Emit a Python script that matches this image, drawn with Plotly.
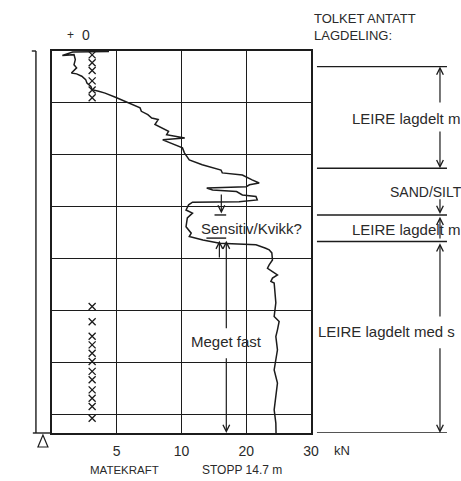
import plotly.graph_objects as go

# Total sounding: push force (kN) against depth (m)
depth_m = [
    0.02, 0.04, 0.17, 0.14, 0.33, 0.53, 0.65, 0.85, 0.88, 0.97, 1.10, 1.23, 1.36, 1.49,
    1.55, 1.62, 1.78, 1.93, 2.07, 2.19, 2.32, 2.45, 2.58, 2.64, 2.83, 2.96, 3.09, 3.22,
    3.32, 3.35, 3.42, 3.62, 3.73, 3.92, 4.19, 4.38, 4.58, 4.69, 4.77, 4.96, 5.08, 5.15,
    5.22, 5.27, 5.35, 5.41, 5.54, 5.60, 5.73, 5.80, 5.82, 5.92, 6.12, 6.24, 6.42, 6.76,
    7.01, 7.14, 7.27, 7.40, 7.46, 7.59, 7.65, 7.77, 8.04, 8.23, 8.36, 8.49, 8.62, 8.74,
    8.87, 8.93, 9.32, 9.69, 10.22, 10.41, 10.73, 10.99, 11.50, 11.88, 12.27, 12.78, 13.30,
    13.81, 14.32, 14.64, 14.70,
]
force_kN = [
    4.4, 1.6, 0.8, 1.7, 1.8, 1.7, 1.9, 1.5, 1.9, 2.3, 2.6, 2.7, 3.0, 3.1,
    3.6, 4.1, 4.9, 5.6, 6.3, 6.8, 6.9, 7.4, 7.7, 8.2, 7.95, 8.5, 9.0, 8.85,
    9.75, 10.5, 8.55, 9.6, 10.15, 10.45, 11.2, 13.2, 16.1, 16.3, 19.4, 20.9, 22.0, 20.5,
    20.0, 13.9, 14.8, 18.5, 19.4, 21.5, 21.7, 18.9, 11.7, 11.1, 10.7, 11.7, 10.9, 10.7,
    11.5, 11.2, 13.3, 15.9, 21.5, 23.0, 23.54, 23.95, 24.05, 23.54, 23.28, 24.05, 24.82, 24.05,
    23.8, 24.31, 24.46, 24.57, 24.31, 25.08, 24.82, 24.57, 24.82, 24.57, 24.31, 24.82, 24.57,
    24.31, 24.57, 24.57, 24.6,
]

# Depths with flushing / hammering marks
mark_depth_top = [0.15, 0.45, 0.75, 1.15, 1.5, 1.8]
mark_depth_bottom = [9.83, 10.42, 10.98, 11.31, 11.63, 11.95, 12.33, 12.65, 13.04, 13.36, 13.68, 14.13]
mark_force_kN = 3.1

tick_kN = [5, 10, 20, 30]
stop_depth = 14.7

# Interpreted layering (labels run off the sheet edge)
layer_tops = [0.6, 4.51, 6.31, 7.33]
layer_bottoms = [4.51, 6.31, 7.33, 14.7]
layer_labels = ["LEIRE lagdelt m", "SAND/SILT", "LEIRE lagdelt m", "LEIRE lagdelt med s"]


def scale(f):
    """Two-part force axis: 0-10 kN at full scale, 10-30 kN at half scale."""
    return f if f <= 10 else 10 + (f - 10) / 2


INK = "#1c1c1c"
TXT = "#2a2a2a"
FONT = "Liberation Sans, Arial, sans-serif"

fig = go.Figure()

fig.add_trace(go.Scatter(
    x=[scale(f) for f in force_kN], y=depth_m, mode="lines",
    line=dict(color=INK, width=1.5), hoverinfo="skip", showlegend=False,
))

marks = mark_depth_top + mark_depth_bottom
fig.add_trace(go.Scatter(
    x=[scale(mark_force_kN)] * len(marks), y=marks, mode="markers",
    marker=dict(symbol="x-thin", size=7, line=dict(color=INK, width=1.3)),
    hoverinfo="skip", showlegend=False,
))

shapes = []
annotations = []


def pline(x0, y0, x1, y1, xref="paper", yref="paper", w=1.4):
    shapes.append(dict(type="line", xref=xref, yref=yref, x0=x0, y0=y0, x1=x1, y1=y1,
                       line=dict(color=INK, width=w)))


def arrow(x, y_head, y_tail, xref="x"):
    annotations.append(dict(
        x=x, y=y_head, xref=xref, yref="y",
        ax=0 if xref == "paper" else x, axref="pixel" if xref == "paper" else "x",
        ay=y_tail, ayref="y", text="", showarrow=True,
        arrowhead=5, arrowsize=1.1, arrowwidth=1.2, arrowcolor=INK,
        standoff=0, startstandoff=0,
    ))


def label(text, x, y, xref="paper", yref="paper", size=15, xanchor="center", yanchor="middle"):
    annotations.append(dict(text=text, x=x, y=y, xref=xref, yref=yref, showarrow=False,
                            xanchor=xanchor, yanchor=yanchor, align="left",
                            font=dict(family=FONT, size=size, color=TXT)))


# depth scale bar to the left of the diagram
pline(-0.062, 0, -0.062, 1)
pline(-0.078, 1, -0.062, 1)
pline(-0.074, 0, 0, 0)
shapes.append(dict(type="path", xref="paper", yref="paper", xsizemode="pixel", ysizemode="pixel",
                   xanchor=-0.035, yanchor=0, path="M -5 -14 L 5 -14 L 0 -2 Z",
                   line=dict(color=INK, width=1.2), fillcolor="rgba(0,0,0,0)"))

label("+", 0.07, 1.042, size=12)
label("0", 0.131, 1.042, size=14)

# annotations inside the diagram
s_mark = scale(16.15)
arrow(s_mark, 6.25, 5.46)
pline(scale(15.1), 6.31, scale(16.9), 6.31, xref="x", yref="y")
label("Sensitiv/Kvikk?", scale(20.8), 6.82, xref="x", yref="y")
pline(scale(13.85), 7.2, scale(16.9), 7.2, xref="x", yref="y")
arrow(scale(15.85), 7.3, 8.0)
s_long = scale(16.92)
arrow(s_long, 7.3, 10.73)
arrow(s_long, stop_depth, 11.77)
label("Meget fast", s_long, 11.19, xref="x", yref="y")

# interpreted layering on the right
label("TOLKET ANTATT<br>LAGDELING:", 1.004, 1.11, size=13, xanchor="left", yanchor="top")
for d in layer_tops + [layer_bottoms[-1]]:
    pline(1.023, d, 1.525, d, yref="y")
xa = 1.498
arrow(xa, layer_tops[0], 2.04, xref="paper")
arrow(xa, layer_bottoms[0], 3.04, xref="paper")
label(layer_labels[0], 1.151, 2.58, yref="y", xanchor="left")
arrow(xa, 6.27, 5.65, xref="paper")
label(layer_labels[1], 1.299, 5.42, yref="y", xanchor="left", size=14)
arrow(xa, 6.38, 7.27, xref="paper")
label(layer_labels[2], 1.151, 6.85, yref="y", xanchor="left")
arrow(xa, 7.4, 10.27, xref="paper")
arrow(xa, layer_bottoms[3], 11.38, xref="paper")
label(layer_labels[3], 1.02, 10.8, yref="y", xanchor="left")

label("kN", 1.12, -0.045, size=13)
label("MATEKRAFT", 0.139, -0.097, size=11.5, xanchor="left")
label("STOPP 14.7 m", 0.571, -0.097, size=12, xanchor="left")

fig.update_layout(
    width=461, height=481,
    margin=dict(l=52, r=150, t=51, b=48),
    paper_bgcolor="white", plot_bgcolor="white",
    shapes=shapes, annotations=annotations,
    xaxis=dict(range=[0, 20], tickvals=[scale(v) for v in tick_kN], ticktext=[str(v) for v in tick_kN],
               showgrid=True, gridcolor=INK, gridwidth=1.4, zeroline=False,
               showline=True, mirror=True, linecolor=INK, linewidth=1.5,
               ticks="", ticklabelstandoff=4, tickfont=dict(family=FONT, size=14, color=TXT)),
    yaxis=dict(range=[stop_depth, 0], tick0=0, dtick=2, showticklabels=False,
               showgrid=True, gridcolor=INK, gridwidth=1.4, zeroline=False,
               showline=True, mirror=True, linecolor=INK, linewidth=1.5, ticks=""),
)

fig.write_html("out.html")
